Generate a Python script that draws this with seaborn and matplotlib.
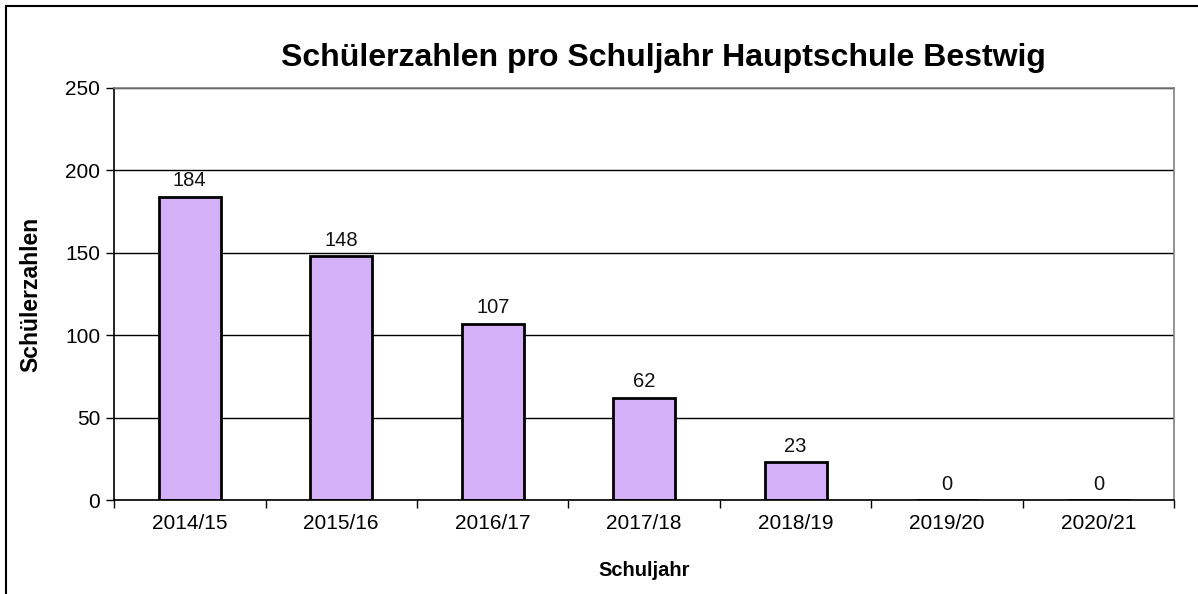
import pandas as pd
import seaborn as sns
import matplotlib.pyplot as plt
from matplotlib.patches import Rectangle

years = ["2014/15", "2015/16", "2016/17", "2017/18", "2018/19", "2019/20", "2020/21"]
students = [184, 148, 107, 62, 23, 0, 0]

df = pd.DataFrame({"Schuljahr": years, "Schülerzahlen": students})

sns.set_theme(style="white")
plt.rcParams["font.family"] = ["Liberation Sans", "DejaVu Sans"]
plt.rcParams.update({
    "text.color": "black",
    "axes.labelcolor": "black",
    "xtick.color": "black",
    "ytick.color": "black",
})

fig = plt.figure(figsize=(11.98, 5.94), dpi=100)
ax = fig.add_axes([0.0952, 0.158, 0.885, 0.694])

sns.barplot(data=df, x="Schuljahr", y="Schülerzahlen", color="#d3b0f8",
            saturation=1, width=0.41, edgecolor="black", linewidth=2, ax=ax)

ax.set_ylim(0, 250)
ax.set_xlim(-0.5, len(years) - 0.5)
ax.set_yticks(range(0, 251, 50))
ax.yaxis.grid(True, color="black", linewidth=1)
ax.set_axisbelow(True)

for i, v in enumerate(students):
    ax.text(i, v + 4, str(v), ha="center", va="bottom", fontsize=14.5, color="#111111")

ax.set_xticks(range(len(years)))
ax.set_xticklabels(years, fontsize=15)
ax.set_xticks([x - 0.5 for x in range(len(years) + 1)], minor=True)
ax.tick_params(axis="x", which="major", bottom=False, length=0, pad=10)
ax.tick_params(axis="x", which="minor", bottom=True, length=6, width=1,
               color="black", direction="out")
ax.tick_params(axis="y", left=True, length=6, width=1, color="black",
               direction="out", labelsize=15, pad=4)

for s in ["left", "bottom"]:
    ax.spines[s].set_color("black")
    ax.spines[s].set_linewidth(1.2)
for s in ["top", "right"]:
    ax.spines[s].set_color("#808080")
    ax.spines[s].set_linewidth(1.2)

ax.set_xlabel("Schuljahr", fontsize=14.5, weight="bold", labelpad=20)
ax.set_ylabel("Schülerzahlen", fontsize=16.5, weight="bold", labelpad=16)
ax.set_title("Schülerzahlen pro Schuljahr Hauptschule Bestwig", fontsize=23,
             weight="bold", pad=16, x=0.518)

fig.patches.append(Rectangle((0.005, -0.2), 1.2, 1.19, transform=fig.transFigure,
                             fill=False, edgecolor="black", linewidth=1.5))

fig.savefig("out.png", dpi=100, facecolor="white")
